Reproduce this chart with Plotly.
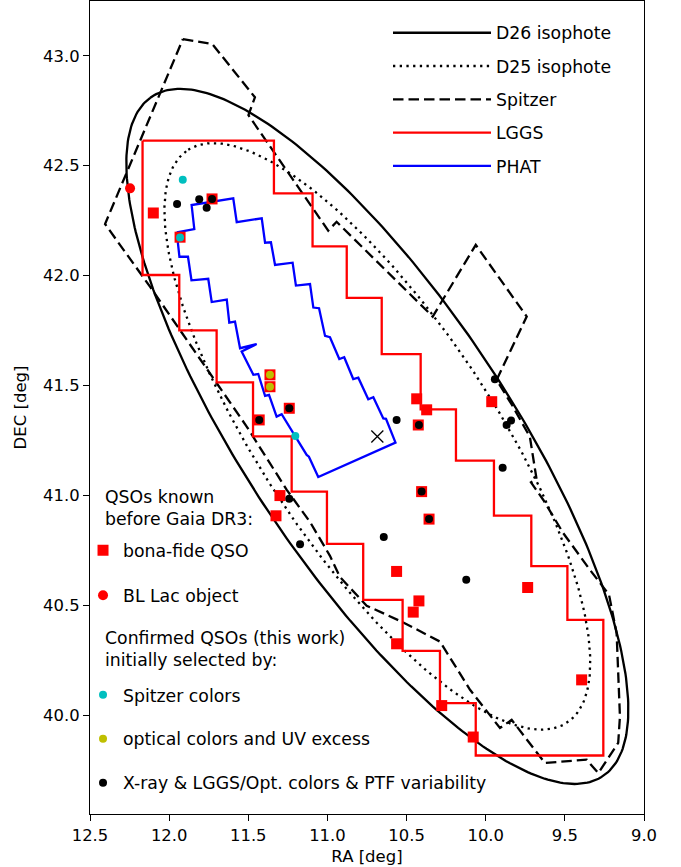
import numpy as np
import plotly.graph_objects as go

# ---------------- data (RA, Dec in degrees) ----------------
# M31 centre and isophote ellipse parameters
M31_RA, M31_DEC = 10.6847, 41.2690
ISO_PA = 35.0            # position angle, deg (east of north)
D25_A, D25_B = 1.583, 0.543   # semi-axes, deg
D26_A, D26_B = 1.88, 0.62     # semi-axes, deg

spitzer_ra = [11.913, 11.727, 11.458, 11.499, 10.995, 10.942, 10.335, 10.063, 9.741, 9.931,
              9.834, 9.721, 9.679, 9.714, 9.636, 9.510, 9.341, 9.221, 9.173, 9.152,
              9.163, 9.289, 9.362, 9.626, 9.836, 9.910, 10.099, 10.289, 10.529, 10.752,
              10.921, 10.984, 11.110, 11.257, 11.510, 11.700, 11.931, 12.121, 12.405, 11.913]
spitzer_dec = [43.076, 43.053, 42.811, 42.730, 42.205, 42.245, 41.814, 42.140, 41.814, 41.526,
               41.412, 41.267, 41.076, 41.060, 40.980, 40.829, 40.662, 40.549, 40.375, 39.995,
               39.875, 39.738, 39.799, 39.784, 39.980, 39.943, 40.117, 40.336, 40.426, 40.499,
               40.630, 40.726, 40.880, 41.026, 41.314, 41.511, 41.753, 41.950, 42.235, 43.076]

lggs_ra = [12.168, 11.338, 11.338, 11.094, 11.094, 10.878, 10.878, 10.657, 10.657, 10.411,
           10.411, 10.188, 10.188, 9.948, 9.948, 9.712, 9.712, 9.484, 9.484, 9.257,
           9.257, 10.063, 10.063, 10.289, 10.289, 10.525, 10.525, 10.774, 10.774, 11.003,
           11.003, 11.226, 11.226, 11.470, 11.470, 11.700, 11.700, 11.936, 11.936, 12.168, 12.168]
lggs_dec = [42.614, 42.614, 42.374, 42.374, 42.133, 42.133, 41.899, 41.899, 41.643, 41.643,
            41.392, 41.392, 41.159, 41.159, 40.909, 40.909, 40.679, 40.679, 40.435, 40.435,
            39.818, 39.818, 40.056, 40.056, 40.294, 40.294, 40.526, 40.526, 40.780, 40.780,
            41.018, 41.018, 41.269, 41.269, 41.515, 41.515, 41.751, 41.751, 42.003, 42.003, 42.614]

phat_ra = [11.952, 11.841, 11.858, 11.595, 11.573, 11.415, 11.394, 11.357, 11.331, 11.220,
           11.199, 11.110, 11.089, 11.053, 11.015, 10.984, 10.925, 10.894, 10.837, 10.805,
           10.742, 10.710, 10.647, 10.630, 10.570, 11.058, 11.117, 11.131, 11.205, 11.289,
           11.321, 11.369, 11.394, 11.437, 11.468, 11.542, 11.447, 11.552, 11.584, 11.620,
           11.636, 11.731, 11.753, 11.859, 11.881, 11.935, 11.952]
phat_dec = [42.197, 42.212, 42.321, 42.352, 42.243, 42.261, 42.150, 42.152, 42.049, 42.059,
            41.955, 41.962, 41.855, 41.852, 41.726, 41.720, 41.621, 41.629, 41.530, 41.536,
            41.438, 41.447, 41.351, 41.349, 41.241, 41.084, 41.177, 41.185, 41.271, 41.370,
            41.359, 41.458, 41.453, 41.553, 41.549, 41.655, 41.689, 41.670, 41.791, 41.786,
            41.891, 41.880, 41.986, 41.979, 42.086, 42.086, 42.197]

bonafide_ra = [12.100, 11.931, 11.729, 11.363, 11.363, 11.241, 11.431, 11.300, 11.325, 10.436,
               10.373, 9.962, 10.426, 10.405, 10.358, 10.563, 10.422, 10.458, 10.563, 9.735,
               10.278, 10.079, 9.394]
bonafide_dec = [42.285, 42.175, 42.349, 41.549, 41.495, 41.397, 41.344, 41.000, 40.908, 41.440,
                41.390, 41.427, 41.321, 41.018, 40.893, 40.655, 40.521, 40.470, 40.326, 40.582,
                40.045, 39.902, 40.162]

bllac_ra = [12.247]
bllac_dec = [42.397]

spitzer_sel_ra = [11.914, 11.931, 11.203]
spitzer_sel_dec = [42.436, 42.173, 41.271]

optical_sel_ra = [11.363, 11.363]
optical_sel_dec = [41.549, 41.495]

xray_sel_ra = [11.950, 11.810, 11.729, 11.763, 11.241, 11.431, 11.241, 11.173, 10.563, 10.422,
               10.405, 10.358, 10.644, 10.123, 9.893, 9.868, 9.840, 9.942]
xray_sel_dec = [42.326, 42.347, 42.349, 42.309, 41.397, 41.344, 40.985, 40.779, 41.344, 41.321,
                41.018, 40.893, 40.812, 40.617, 41.127, 41.321, 41.341, 41.529]

x_ticks = [12.5, 12.0, 11.5, 11.0, 10.5, 10.0, 9.5, 9.0]
y_ticks = [40.0, 40.5, 41.0, 41.5, 42.0, 42.5, 43.0]

header_known = "QSOs known<br>before Gaia DR3:"
header_confirmed = "Confirmed QSOs (this work)<br>initially selected by:"


def iso_ellipse(a, b, pa_deg, n=361):
    t = np.linspace(0, 2 * np.pi, n)
    th = np.radians(pa_deg)
    u, v = a * np.cos(t), b * np.sin(t)
    eta = u * np.cos(th) - v * np.sin(th)
    xi = u * np.sin(th) + v * np.cos(th)
    return M31_RA + xi / np.cos(np.radians(M31_DEC)), M31_DEC + eta


d26_ra, d26_dec = iso_ellipse(D26_A, D26_B, ISO_PA)
d25_ra, d25_dec = iso_ellipse(D25_A, D25_B, ISO_PA)

FONT = "DejaVu Sans"
LEG_FS = 17.3
fig = go.Figure()

lw = 2.3
fig.add_trace(go.Scatter(x=d26_ra, y=d26_dec, mode="lines", name="D26 isophote",
                         line=dict(color="black", width=lw), legend="legend", legendgroup="a"))
fig.add_trace(go.Scatter(x=d25_ra, y=d25_dec, mode="lines", name="D25 isophote",
                         line=dict(color="black", width=lw, dash="2.3px,4.4px"),
                         legend="legend", legendgroup="b"))
fig.add_trace(go.Scatter(x=spitzer_ra, y=spitzer_dec, mode="lines", name="Spitzer",
                         line=dict(color="black", width=lw, dash="10.5px,5px"),
                         legend="legend", legendgroup="c"))
fig.add_trace(go.Scatter(x=lggs_ra, y=lggs_dec, mode="lines", name="LGGS",
                         line=dict(color="#ff0000", width=lw), legend="legend", legendgroup="d"))
fig.add_trace(go.Scatter(x=phat_ra, y=phat_dec, mode="lines", name="PHAT",
                         line=dict(color="#0000ff", width=lw), legend="legend", legendgroup="e"))

fig.add_trace(go.Scatter(x=bonafide_ra, y=bonafide_dec, mode="markers", name="bona-fide QSO",
                         marker=dict(symbol="square", size=11, color="#ff0000"),
                         legend="legend2", legendgroup="k1"))
fig.add_trace(go.Scatter(x=bllac_ra, y=bllac_dec, mode="markers", name="BL Lac object",
                         marker=dict(symbol="circle", size=10, color="#ff0000"),
                         legend="legend2", legendgroup="k2"))
fig.add_trace(go.Scatter(x=spitzer_sel_ra, y=spitzer_sel_dec, mode="markers", name="Spitzer colors",
                         marker=dict(symbol="circle", size=8, color="#00bfbf"),
                         legend="legend3", legendgroup="c1"))
fig.add_trace(go.Scatter(x=optical_sel_ra, y=optical_sel_dec, mode="markers",
                         name="optical colors and UV excess",
                         marker=dict(symbol="circle", size=8, color="#bfbf00"),
                         legend="legend3", legendgroup="c2"))
fig.add_trace(go.Scatter(x=xray_sel_ra, y=xray_sel_dec, mode="markers",
                         name="X-ray & LGGS/Opt. colors & PTF variability",
                         marker=dict(symbol="circle", size=8, color="black"),
                         legend="legend3", legendgroup="c3"))
fig.add_trace(go.Scatter(x=[M31_RA], y=[M31_DEC], mode="markers", showlegend=False,
                         marker=dict(symbol="x-thin", size=12, line=dict(color="black", width=1.3))))

axis_common = dict(showline=True, mirror=True, linecolor="black", linewidth=1.2,
                   ticks="outside", ticklen=6, tickwidth=1.2, tickcolor="black",
                   showgrid=False, zeroline=False, automargin=False,
                   tickfont=dict(size=16.4, family=FONT, color="black"))

leg_common = dict(xanchor="left", yanchor="top", bgcolor="rgba(0,0,0,0)",
                  font=dict(size=LEG_FS, family=FONT, color="black"))

fig.update_layout(
    width=681, height=867,
    margin=dict(l=90, r=37, t=1, b=53),
    paper_bgcolor="white", plot_bgcolor="white",
    font=dict(family=FONT, size=16, color="black"),
    xaxis=dict(range=[12.5, 9.0], tickvals=x_ticks, tickformat=".1f",
               title=dict(text="RA [deg]", standoff=6, font=dict(size=16.5)), **axis_common),
    yaxis=dict(range=[39.552, 43.249], tickvals=y_ticks, tickformat=".1f",
               title=dict(text="DEC [deg]", standoff=12, font=dict(size=16.5)), **axis_common),
    legend=dict(x=0.5379, y=0.9828, itemwidth=98, tracegroupgap=7.8, **leg_common),
    legend2=dict(x=-0.0126, y=0.3463, tracegroupgap=19.5, **leg_common),
    legend3=dict(x=-0.0126, y=0.1685, tracegroupgap=18.5, **leg_common),
    annotations=[
        dict(text=header_known, xref="paper", yref="paper", x=0.0235, y=0.3758,
             xanchor="left", yanchor="middle", align="left", showarrow=False,
             font=dict(size=LEG_FS, family=FONT, color="black")),
        dict(text=header_confirmed, xref="paper", yref="paper", x=0.0235, y=0.2025,
             xanchor="left", yanchor="middle", align="left", showarrow=False,
             font=dict(size=LEG_FS, family=FONT, color="black")),
    ],
)

fig.write_html("out.html")
